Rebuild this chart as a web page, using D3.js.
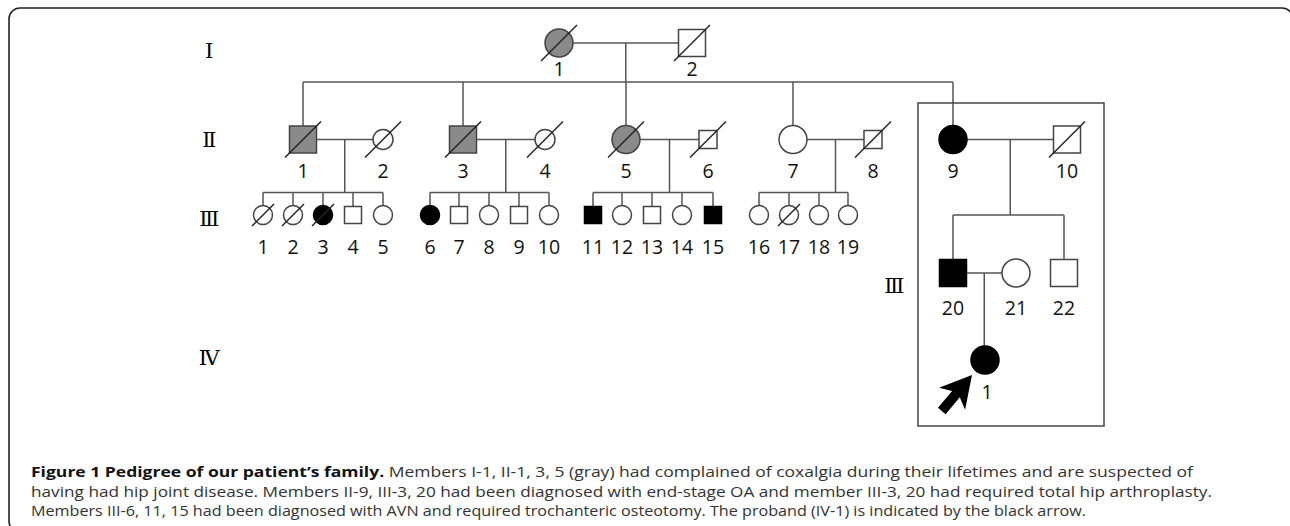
<!DOCTYPE html>
<html>
<head>
<meta charset="utf-8">
<script src="https://cdn.jsdelivr.net/npm/d3@7"></script>
<style>
  body { margin: 0; background: #fff; }
  svg { display: block; }
</style>
</head>
<body>
<div id="chart"></div>
<script>
// generation labels
var genLabels = ["I", "II", "III", "IV"];

// individuals, one array per generation row (col = layout grid column)
var gen1 = [
  {id: "I-1", label: "1", sex: "F", status: "suspected", dead: true, col: 32.6},
  {id: "I-2", label: "2", sex: "M", status: "normal", dead: true, col: 45.9}
];
var gen2 = [
  {id: "II-1", label: "1", sex: "M", status: "suspected", dead: true, col: 7},
  {id: "II-2", label: "2", sex: "F", status: "normal", dead: true, col: 15},
  {id: "II-3", label: "3", sex: "M", status: "suspected", dead: true, col: 23},
  {id: "II-4", label: "4", sex: "F", status: "normal", dead: true, col: 31.2},
  {id: "II-5", label: "5", sex: "F", status: "suspected", dead: true, col: 39.3},
  {id: "II-6", label: "6", sex: "M", status: "normal", dead: true, col: 47.5},
  {id: "II-7", label: "7", sex: "F", status: "normal", dead: false, col: 56},
  {id: "II-8", label: "8", sex: "M", status: "normal", dead: true, col: 64},
  {id: "II-9", label: "9", sex: "F", status: "affected", dead: false, col: 72},
  {id: "II-10", label: "10", sex: "M", status: "normal", dead: true, col: 83.4}
];
var gen3 = [
  {id: "III-1", label: "1", sex: "F", status: "normal", dead: true, col: 3},
  {id: "III-2", label: "2", sex: "F", status: "normal", dead: true, col: 6},
  {id: "III-3", label: "3", sex: "F", status: "affected", dead: true, col: 9},
  {id: "III-4", label: "4", sex: "M", status: "normal", dead: false, col: 12},
  {id: "III-5", label: "5", sex: "F", status: "normal", dead: false, col: 15},
  {id: "III-6", label: "6", sex: "F", status: "affected", dead: false, col: 19.7},
  {id: "III-7", label: "7", sex: "M", status: "normal", dead: false, col: 22.6},
  {id: "III-8", label: "8", sex: "F", status: "normal", dead: false, col: 25.6},
  {id: "III-9", label: "9", sex: "M", status: "normal", dead: false, col: 28.6},
  {id: "III-10", label: "10", sex: "F", status: "normal", dead: false, col: 31.6},
  {id: "III-11", label: "11", sex: "M", status: "affected", dead: false, col: 36},
  {id: "III-12", label: "12", sex: "F", status: "normal", dead: false, col: 38.9},
  {id: "III-13", label: "13", sex: "M", status: "normal", dead: false, col: 41.9},
  {id: "III-14", label: "14", sex: "F", status: "normal", dead: false, col: 44.9},
  {id: "III-15", label: "15", sex: "M", status: "affected", dead: false, col: 48},
  {id: "III-16", label: "16", sex: "F", status: "normal", dead: false, col: 52.6},
  {id: "III-17", label: "17", sex: "F", status: "normal", dead: true, col: 55.6},
  {id: "III-18", label: "18", sex: "F", status: "normal", dead: false, col: 58.6},
  {id: "III-19", label: "19", sex: "F", status: "normal", dead: false, col: 61.5}
];
var gen3b = [
  {id: "III-20", label: "20", sex: "M", status: "affected", dead: false, col: 72},
  {id: "III-21", label: "21", sex: "F", status: "normal", dead: false, col: 78.3},
  {id: "III-22", label: "22", sex: "M", status: "normal", dead: false, col: 83.1}
];
var gen4 = [
  {id: "IV-1", label: "1", sex: "F", status: "affected", dead: false, col: 75.2, proband: true}
];

// couples and their children
var families = [
  {parents: ["I-1", "I-2"], bar: "barII", children: ["II-1", "II-3", "II-5", "II-7", "II-9"]},
  {parents: ["II-1", "II-2"], bar: "barIII", children: ["III-1", "III-2", "III-3", "III-4", "III-5"]},
  {parents: ["II-3", "II-4"], bar: "barIII", children: ["III-6", "III-7", "III-8", "III-9", "III-10"]},
  {parents: ["II-5", "II-6"], bar: "barIII", children: ["III-11", "III-12", "III-13", "III-14", "III-15"]},
  {parents: ["II-7", "II-8"], bar: "barIII", children: ["III-16", "III-17", "III-18", "III-19"]},
  {parents: ["II-9", "II-10"], bar: "barIIIb", children: ["III-20", "III-22"]},
  {parents: ["III-20", "III-21"], bar: null, children: ["IV-1"]}
];

var captionBold = "Figure 1 Pedigree of our patient\u2019s family.";
var captionLines = [
  " Members I-1, II-1, 3, 5 (gray) had complained of coxalgia during their lifetimes and are suspected of",
  "having had hip joint disease. Members II-9, III-3, 20 had been diagnosed with end-stage OA and member III-3, 20 had required total hip arthroplasty.",
  "Members III-6, 11, 15 had been diagnosed with AVN and required trochanteric osteotomy. The proband (IV-1) is indicated by the black arrow."
];

// ---- layout / style ----
var W = 1290, H = 526;
var line_color = '#555';
var symbol_stroke = '#444';
var fill_colors = {suspected: '#8a8a8a', affected: '#000', normal: '#fff'};
var small_spouses = ["II-2", "II-4", "II-6", "II-8"];

var x = d3.scaleLinear().domain([0, 100]).range([233, 1233]);
var y = d3.scaleOrdinal()
  .domain(["I", "barII", "II", "barIII", "III", "barIIIb", "IIIb", "IV"])
  .range([43, 82, 139.5, 192.5, 215, 215, 273, 360]);
var labelDy = {I: 26, II: 31, III: 32, IIIb: 35, IV: 32};
var slashK = {I: 18, II: 18, III: 11, IIIb: 18, IV: 18};

var rows = [["I", gen1], ["II", gen2], ["III", gen3], ["IIIb", gen3b], ["IV", gen4]];
var people = [];
var byId = {};
rows.forEach(function(r) {
  r[1].forEach(function(p) {
    p.row = r[0];
    p.cx = x(p.col);
    p.cy = y(r[0]);
    if (r[0] === "III") p.half = p.sex === "M" ? 8.5 : 9.5;
    else if (small_spouses.indexOf(p.id) >= 0) p.half = p.sex === "M" ? 9 : 10;
    else p.half = p.sex === "M" ? 13.5 : 14;
    people.push(p);
    byId[p.id] = p;
  });
});

var svg = d3.select("#chart").append("svg")
  .attr("width", W).attr("height", H)
  .attr("viewBox", "0 0 " + W + " " + H);

// outer rounded frame
svg.append("rect")
  .attr("x", 9).attr("y", 8)
  .attr("width", 1284).attr("height", 524)
  .attr("rx", 11)
  .attr("fill", "none").attr("stroke", "#222").attr("stroke-width", 1.6);

var lines = svg.append("g").attr("class", "lines")
  .attr("stroke", line_color).attr("stroke-width", 1.5).attr("fill", "none");

families.forEach(function(f) {
  var a = byId[f.parents[0]], b = byId[f.parents[1]];
  var left = a.cx < b.cx ? a : b, right = a.cx < b.cx ? b : a;
  var x1 = left.cx + left.half, x2 = right.cx - right.half;
  var my = a.cy;
  var mid = (x1 + x2) / 2;
  lines.append("line").attr("x1", x1).attr("x2", x2).attr("y1", my).attr("y2", my);
  var kids = f.children.map(function(id) { return byId[id]; });
  if (f.bar) {
    var by = y(f.bar);
    lines.append("line").attr("x1", mid).attr("x2", mid).attr("y1", my).attr("y2", by);
    var ext = d3.extent(kids, function(k) { return k.cx; });
    lines.append("line").attr("x1", ext[0]).attr("x2", ext[1]).attr("y1", by).attr("y2", by);
    kids.forEach(function(k) {
      lines.append("line").attr("x1", k.cx).attr("x2", k.cx).attr("y1", by).attr("y2", k.cy - k.half);
    });
  } else {
    kids.forEach(function(k) {
      lines.append("line").attr("x1", mid).attr("x2", mid).attr("y1", my).attr("y2", k.cy - k.half);
    });
  }
});

// box around branch II-9
var boxL = byId["II-9"].cx - 35, boxR = byId["II-10"].cx + 37;
svg.append("rect")
  .attr("x", boxL).attr("y", byId["II-9"].cy - 36.5)
  .attr("width", boxR - boxL).attr("height", byId["IV-1"].cy + 66 - (byId["II-9"].cy - 36.5))
  .attr("fill", "none").attr("stroke", "#444").attr("stroke-width", 1.5);

// symbols
var sym = svg.append("g").attr("class", "symbols").selectAll("g")
  .data(people).enter().append("g");

sym.filter(function(d) { return d.sex === "M"; }).append("rect")
  .attr("x", function(d) { return d.cx - d.half; })
  .attr("y", function(d) { return d.cy - d.half; })
  .attr("width", function(d) { return d.half * 2; })
  .attr("height", function(d) { return d.half * 2; });
sym.filter(function(d) { return d.sex === "F"; }).append("circle")
  .attr("cx", function(d) { return d.cx; })
  .attr("cy", function(d) { return d.cy; })
  .attr("r", function(d) { return d.half; });
sym.selectAll("rect, circle")
  .attr("fill", function(d) { return fill_colors[d.status]; })
  .attr("stroke", function(d) { return d.status === "affected" ? "#000" : symbol_stroke; })
  .attr("stroke-width", 1.5);

// deceased slash
sym.filter(function(d) { return d.dead; }).append("line")
  .attr("x1", function(d) { return d.cx - slashK[d.row]; })
  .attr("y1", function(d) { return d.cy + slashK[d.row]; })
  .attr("x2", function(d) { return d.cx + slashK[d.row]; })
  .attr("y2", function(d) { return d.cy - slashK[d.row]; })
  .attr("stroke", "#222").attr("stroke-width", 1.4);

// member numbers
sym.append("text")
  .attr("x", function(d) { return d.cx + (d.proband ? 2 : 0); })
  .attr("y", function(d) { return d.cy + labelDy[d.row]; })
  .attr("dy", "0.36em")
  .attr("text-anchor", "middle")
  .style("font-family", "'Open Sans', 'Noto Sans', sans-serif")
  .style("font-size", "19.5px")
  .attr("fill", "#111")
  .text(function(d) { return d.label; });

// proband arrow
var pb = byId["IV-1"];
svg.append("path")
  .attr("d", "M0,0 L-31,-17 L-25,-5 L-47,-5 L-47,5 L-25,5 L-31,17 Z")
  .attr("transform", "translate(" + (pb.cx - 13) + "," + (pb.cy + 15) + ") rotate(-50)")
  .attr("fill", "#000");

// generation numerals
var romanFont = "'DejaVu Serif', 'Liberation Serif', serif";
var genY = {I: 50, II: 139, III: 218, IV: 357};
svg.append("g").selectAll("text").data(genLabels).enter().append("text")
  .attr("x", 208).attr("y", function(d) { return genY[d]; })
  .attr("dy", "0.36em")
  .attr("text-anchor", "middle")
  .style("font-family", romanFont).style("font-size", "21px")
  .style("letter-spacing", "-2.5px")
  .text(function(d) { return d; });
svg.append("text")
  .attr("x", boxL - 25).attr("y", 285).attr("dy", "0.36em")
  .attr("text-anchor", "middle")
  .style("font-family", romanFont).style("font-size", "21px")
  .style("letter-spacing", "-2.5px")
  .text(genLabels[2]);

// caption
var capFont = "'Open Sans', 'Noto Sans', sans-serif";
var capWidths = [1162, 1181, 1055];
var capY = [477, 496.5, 516];
captionLines.forEach(function(t, i) {
  var tx = svg.append("text")
    .attr("x", 31).attr("y", capY[i])
    .attr("textLength", capWidths[i]).attr("lengthAdjust", "spacingAndGlyphs")
    .style("font-family", capFont).style("font-size", "15px")
    .attr("fill", "#333");
  if (i === 0) {
    tx.append("tspan").style("font-weight", "bold").attr("fill", "#111").text(captionBold);
  }
  tx.append("tspan").text(t);
});
</script>
</body>
</html>
